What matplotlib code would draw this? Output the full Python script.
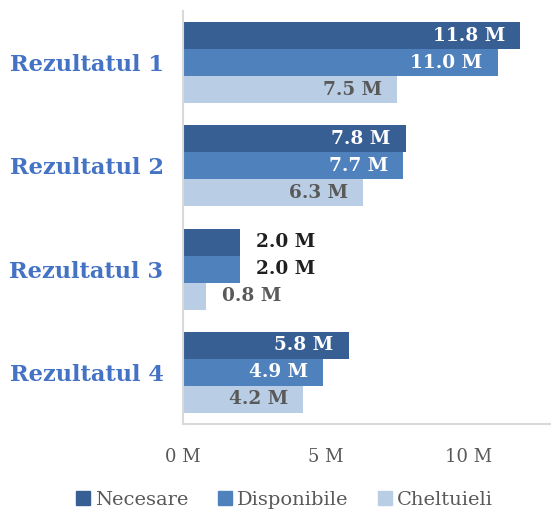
import matplotlib
matplotlib.use("Agg")
import matplotlib.pyplot as plt
import numpy as np
from matplotlib.patches import Patch

categories = ["Rezultatul 1", "Rezultatul 2", "Rezultatul 3", "Rezultatul 4"]
series_names = ["Necesare", "Disponibile", "Cheltuieli"]
necesare = [11.8, 7.8, 2.0, 5.8]
disponibile = [11.0, 7.7, 2.0, 4.9]
cheltuieli = [7.5, 6.3, 0.8, 4.2]
tick_values = [0, 5, 10]
tick_labels = ["0 M", "5 M", "10 M"]

colors = ["#375f93", "#4f81bd", "#b9cde5"]
inside_text = ["white", "white", "#595959"]
outside_text = ["#1f1f1f", "#1f1f1f", "#595959"]

W, H = 551, 515
fig = plt.figure(figsize=(W / 100, H / 100), dpi=100)
ax = fig.add_axes([183 / W, (H - 424) / H, (W - 183) / W, (424 - 11) / H])

font = "DejaVu Serif"
values = [necesare, disponibile, cheltuieli]
bh = 0.262
y = np.arange(len(categories))
for i, vals in enumerate(values):
    pos = y - bh + i * bh
    ax.barh(pos, vals, height=bh, color=colors[i], label=series_names[i])
    for p, v in zip(pos, vals):
        txt = f"{v:.1f} M"
        if v > 3:
            ax.annotate(txt, (v, p), xytext=(-11, 0), textcoords="offset points",
                        ha="right", va="center", color=inside_text[i],
                        fontsize=13.3, fontweight="bold", family=font)
        else:
            ax.annotate(txt, (v, p), xytext=(11.5, 0), textcoords="offset points",
                        ha="left", va="center", color=outside_text[i],
                        fontsize=13.3, fontweight="bold", family=font)

ax.set_ylim(len(categories) - 0.5, -0.5)
ax.set_xlim(0, 12.87)
ax.set_yticks(y)
ax.set_yticklabels(categories, fontsize=16.2, fontweight="bold", color="#4472c4", family=font)
ax.set_xticks(tick_values)
ax.set_xticklabels(tick_labels, fontsize=13, color="#595959", family=font)
ax.tick_params(axis="both", length=0)
ax.tick_params(axis="x", pad=17)
ax.tick_params(axis="y", pad=14)
for s in ["top", "right"]:
    ax.spines[s].set_visible(False)
for s in ["left", "bottom"]:
    ax.spines[s].set_color("#d9d9d9")
    ax.spines[s].set_linewidth(1.5)

handles = [Patch(color=c) for c in colors]
leg = fig.legend(handles, series_names, loc="center", bbox_to_anchor=(0.516, (H - 500) / H),
                 ncol=3, frameon=False, handlelength=0.75, handleheight=0.75, handletextpad=0.25,
                 columnspacing=1.5, prop={"family": font, "size": 14})
for t in leg.get_texts():
    t.set_color("#595959")

fig.savefig("out.png", dpi=100)
